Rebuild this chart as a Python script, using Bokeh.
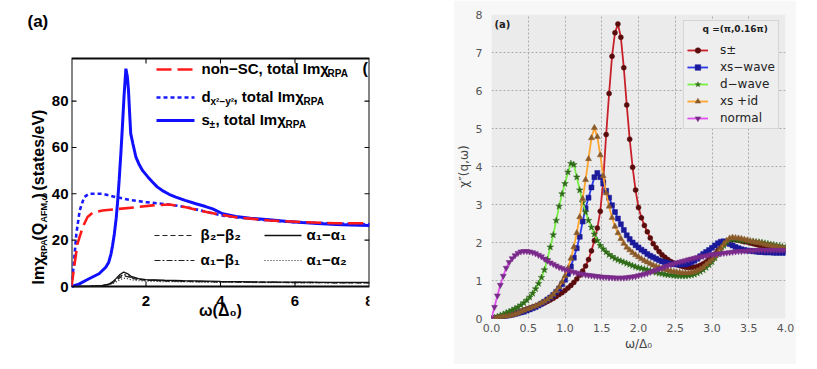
import numpy as np
from bokeh.plotting import figure
from bokeh.models import (Range1d, FixedTicker, Label, Arrow, Legend, LegendItem,
                          PrintfTickFormatter)
from bokeh.layouts import row
from bokeh.embed import file_html
from bokeh.resources import INLINE

# ---------------- left panel data (omega in units of Delta0) ----------------
spm_x = [0.0, 0.2, 0.38, 0.55, 0.74, 0.92, 1.0, 1.06, 1.10, 1.15, 1.20, 1.24, 1.28, 1.33,
         1.37, 1.41, 1.46, 1.50, 1.53, 1.56, 1.59, 1.65, 1.73, 1.82, 1.91, 2.05, 2.18, 2.30,
         2.44, 2.62, 2.8, 3.05, 3.34, 3.6, 3.79, 4.06, 4.41, 4.8, 5.31, 5.8, 6.2, 6.6, 7.1,
         7.5, 8.0]
spm_y = [0.0, 1.0, 2.6, 4.0, 5.5, 8.3, 10.5, 14.0, 17.5, 22.7, 29.5, 37.0, 46.0, 58.7,
         70.0, 82.0, 94.0, 90.5, 84.6, 75.0, 66.0, 61.5, 55.8, 52.5, 50.0, 47.3, 45.0, 43.0,
         41.4, 39.8, 38.6, 37.2, 35.7, 34.5, 33.5, 31.4, 30.2, 29.5, 28.8, 28.1, 27.6, 27.2,
         26.8, 26.5, 26.3]
nonsc_x = [0.0, 0.07, 0.16, 0.30, 0.43, 0.56, 0.83, 1.28, 1.73, 2.18, 2.62, 3.07, 3.52,
           3.97, 4.41, 5.31, 6.2, 7.1, 8.0]
nonsc_y = [0.0, 8.3, 18.4, 25.6, 30.0, 31.7, 32.8, 33.5, 34.2, 35.0, 35.4, 34.2, 32.5,
           31.1, 29.9, 28.5, 27.8, 27.3, 27.3]
dwave_x = [0.0, 0.07, 0.13, 0.22, 0.34, 0.47, 0.83, 1.19, 1.55, 2.0, 2.62, 3.16, 3.7,
           4.06, 4.41, 5.31, 6.2, 7.1, 8.0]
dwave_y = [0.0, 11.2, 22.7, 32.8, 38.6, 40.0, 40.0, 38.6, 37.4, 36.4, 35.4, 34.0, 31.9,
           30.6, 29.9, 28.5, 27.6, 27.2, 26.8]
band_x = [0.0, 0.5, 0.8, 1.0, 1.1, 1.2, 1.3, 1.4, 1.5, 1.6, 1.8, 2.0, 2.5, 3.0, 4.0, 5.0,
          6.0, 7.0, 8.0]
a1a1_y = [0.0, 0.1, 0.4, 1.0, 2.0, 3.5, 5.2, 6.2, 5.6, 4.4, 3.4, 3.0, 2.7, 2.5, 2.2, 2.0,
          1.9, 1.8, 1.8]
b2b2_y = [0.0, 0.1, 0.3, 0.8, 1.5, 2.6, 3.8, 4.6, 4.3, 3.6, 3.0, 2.7, 2.4, 2.2, 2.0, 1.8,
          1.7, 1.6, 1.6]
a1b1_y = [0.0, 0.1, 0.3, 0.9, 1.7, 3.0, 4.4, 5.2, 4.8, 3.9, 3.1, 2.8, 2.5, 2.3, 2.0, 1.9,
          1.8, 1.7, 1.7]
a1a2_y = [0.0, 0.1, 0.2, 0.6, 1.2, 2.0, 2.9, 3.6, 3.4, 2.9, 2.5, 2.3, 2.1, 2.0, 1.8, 1.7,
          1.6, 1.6, 1.5]
left_xticks = [2, 4, 6, 8]
left_yticks = [0, 20, 40, 60, 80]
left_box = (0, 8, 0, 98.4)          # axis limits of panel (a): x0, x1, y0, y1

# ---------------- right panel data ----------------
omega = [round(0.04 * i, 2) for i in range(101)]
chi_spm = [0.00, 0.01, 0.02, 0.04, 0.05, 0.07, 0.09, 0.11, 0.14, 0.17,
           0.19, 0.22, 0.25, 0.27, 0.30, 0.32, 0.35, 0.38, 0.41, 0.45,
           0.49, 0.53, 0.58, 0.63, 0.68, 0.74, 0.80, 0.87, 0.95, 1.04,
           1.14, 1.25, 1.38, 1.55, 1.78, 2.05, 2.38, 2.82, 3.62, 4.84,
           5.92, 6.90, 7.52, 7.75, 7.40, 6.60, 5.62, 4.72, 3.98, 3.38,
           2.92, 2.65, 2.45, 2.28, 2.12, 1.97, 1.86, 1.76, 1.68, 1.61,
           1.55, 1.50, 1.46, 1.42, 1.39, 1.37, 1.35, 1.34, 1.34, 1.35,
           1.37, 1.40, 1.44, 1.49, 1.55, 1.62, 1.70, 1.79, 1.87, 1.95,
           2.02, 2.06, 2.08, 2.07, 2.06, 2.04, 2.02, 2.01, 1.99, 1.97,
           1.95, 1.93, 1.92, 1.91, 1.89, 1.88, 1.87, 1.86, 1.85, 1.84,
           1.83]
chi_xs = [0.00, 0.01, 0.02, 0.03, 0.05, 0.06, 0.08, 0.10, 0.12, 0.14,
          0.16, 0.18, 0.21, 0.24, 0.27, 0.30, 0.34, 0.39, 0.44, 0.50,
          0.55, 0.62, 0.70, 0.79, 0.90, 1.02, 1.17, 1.37, 1.60, 1.85,
          2.15, 2.55, 2.90, 3.18, 3.45, 3.72, 3.83, 3.72, 3.55, 3.36,
          3.18, 2.98, 2.80, 2.63, 2.48, 2.33, 2.19, 2.09, 2.00, 1.93,
          1.87, 1.81, 1.76, 1.70, 1.65, 1.61, 1.57, 1.53, 1.50, 1.48,
          1.46, 1.44, 1.43, 1.42, 1.42, 1.42, 1.43, 1.45, 1.48, 1.52,
          1.57, 1.64, 1.70, 1.75, 1.80, 1.86, 1.92, 1.98, 2.02, 2.03,
          2.00, 1.96, 1.92, 1.88, 1.85, 1.82, 1.80, 1.79, 1.78, 1.77,
          1.76, 1.75, 1.75, 1.74, 1.74, 1.74, 1.73, 1.73, 1.73, 1.73,
          1.73]
chi_d = [0.00, 0.02, 0.05, 0.08, 0.11, 0.15, 0.18, 0.22, 0.26, 0.30,
         0.35, 0.41, 0.48, 0.56, 0.66, 0.78, 0.92, 1.08, 1.28, 1.55,
         1.88, 2.20, 2.58, 2.95, 3.28, 3.55, 3.85, 4.08, 4.05, 3.72,
         3.38, 3.05, 2.80, 2.58, 2.40, 2.22, 2.05, 1.92, 1.83, 1.75,
         1.68, 1.63, 1.58, 1.54, 1.51, 1.48, 1.45, 1.42, 1.39, 1.36,
         1.34, 1.32, 1.30, 1.28, 1.26, 1.24, 1.21, 1.19, 1.18, 1.16,
         1.15, 1.14, 1.13, 1.12, 1.12, 1.12, 1.12, 1.13, 1.14, 1.16,
         1.19, 1.23, 1.28, 1.34, 1.41, 1.49, 1.59, 1.70, 1.81, 1.92,
         2.01, 2.07, 2.09, 2.08, 2.07, 2.06, 2.05, 2.04, 2.03, 2.03,
         2.02, 2.01, 2.00, 1.98, 1.97, 1.95, 1.94, 1.92, 1.91, 1.89,
         1.88]
chi_xsid = [0.00, 0.01, 0.02, 0.03, 0.04, 0.06, 0.07, 0.09, 0.11, 0.14,
            0.18, 0.21, 0.24, 0.27, 0.30, 0.33, 0.37, 0.41, 0.45, 0.50,
            0.56, 0.63, 0.72, 0.83, 0.96, 1.12, 1.32, 1.58, 1.88, 2.25,
            2.67, 3.15, 3.65, 4.20, 4.75, 5.02, 4.78, 4.30, 3.75, 3.30,
            2.95, 2.65, 2.42, 2.25, 2.10, 1.97, 1.87, 1.80, 1.73, 1.67,
            1.62, 1.57, 1.52, 1.48, 1.44, 1.40, 1.37, 1.34, 1.31, 1.29,
            1.27, 1.25, 1.23, 1.22, 1.21, 1.20, 1.20, 1.20, 1.21, 1.23,
            1.26, 1.30, 1.35, 1.42, 1.49, 1.56, 1.64, 1.74, 1.85, 1.96,
            2.05, 2.11, 2.13, 2.12, 2.11, 2.10, 2.08, 2.06, 2.04, 2.02,
            2.00, 1.99, 1.97, 1.95, 1.93, 1.92, 1.90, 1.89, 1.87, 1.86,
            1.84]
chi_normal = [0.00, 0.30, 0.60, 0.88, 1.12, 1.33, 1.48, 1.58, 1.66, 1.72,
              1.76, 1.77, 1.77, 1.76, 1.74, 1.71, 1.67, 1.63, 1.57, 1.52,
              1.47, 1.43, 1.39, 1.35, 1.32, 1.29, 1.27, 1.24, 1.22, 1.20,
              1.18, 1.17, 1.15, 1.14, 1.13, 1.12, 1.11, 1.10, 1.09, 1.09,
              1.08, 1.08, 1.07, 1.07, 1.07, 1.07, 1.08, 1.09, 1.10, 1.11,
              1.13, 1.15, 1.17, 1.19, 1.22, 1.25, 1.27, 1.30, 1.33, 1.36,
              1.39, 1.42, 1.44, 1.47, 1.49, 1.51, 1.53, 1.55, 1.57, 1.59,
              1.61, 1.62, 1.64, 1.65, 1.67, 1.68, 1.69, 1.70, 1.71, 1.72,
              1.73, 1.74, 1.75, 1.76, 1.77, 1.77, 1.78, 1.78, 1.79, 1.79,
              1.80, 1.80, 1.80, 1.80, 1.80, 1.80, 1.80, 1.80, 1.80, 1.80,
              1.80]
right_xticks = [0.0, 0.5, 1.0, 1.5, 2.0, 2.5, 3.0, 3.5, 4.0]
right_yticks = [0, 1, 2, 3, 4, 5, 6, 7, 8]
right_names = ["s\u00b1", "xs\u2212wave", "d\u2212wave", "xs +id", "normal"]

# shared frame band (all three canvases in the row get the same top/bottom borders)
TOP, FH, BOT = 14, 304, 46
FB = TOP + FH                       # frame bottom in picture pixels (318)
L_FL, R_FL = 70, 487
L_FW, R_FW = 298, 294
BOX_T, BOX_B = 58, 286              # pixel rows of panel (a)'s axes box
pix_per_unit = (BOX_B - BOX_T) / (left_box[3] - left_box[2])
ly0 = left_box[2] - (FB - BOX_B) / pix_per_unit
ly1 = left_box[3] + (BOX_T - TOP) / pix_per_unit
INK = "#0a0a0a"


def put(p, fl, X, Y, text, size, bold=False, font="Liberation Sans", color="black",
        angle=0.0, align="left", baseline="middle"):
    p.add_layout(Label(x=X - fl, y=FB - Y, x_units="screen", y_units="screen", text=text,
                       text_font=font, text_font_size=f"{size}px",
                       text_font_style="bold" if bold else "normal", text_color=color,
                       angle=angle, text_align=align, text_baseline=baseline))


def put_data(p, xr, yr, fl, fw, X, Y, text, size, bold=False, font="DejaVu Sans",
             color="#222222"):
    dx = xr[0] + (X - fl) / fw * (xr[1] - xr[0])
    dy = yr[0] + (FB - Y) / FH * (yr[1] - yr[0])
    p.add_layout(Label(x=dx, y=dy, text=text, text_font=font, text_font_size=f"{size}px",
                       text_font_style="bold" if bold else "normal", text_color=color,
                       text_baseline="middle"))


def seg(p, fl, X0, X1, Y0, Y1, color, width, dash="solid"):
    p.add_layout(Arrow(end=None, x_start=X0 - fl, y_start=FB - Y0, x_end=X1 - fl,
                       y_end=FB - Y1, start_units="screen", end_units="screen",
                       line_color=color, line_width=width, line_dash=dash))


# ================= text strip left of panel (a) =================
t = figure(frame_width=48, frame_height=FH, x_range=Range1d(0, 1), y_range=Range1d(0, 1),
           output_backend="svg", toolbar_location=None, title=None,
           x_axis_location=None, y_axis_location=None, min_border_left=0,
           min_border_right=0, min_border_top=TOP, min_border_bottom=BOT,
           outline_line_color=None)
t.xgrid.visible = False
t.ygrid.visible = False
A = np.pi / 2
put(t, 0, 27, 21, "(a)", 17, True)
put(t, 0, 38, 284, "Im\u03c7", 16, True, angle=A)
put(t, 0, 43, 257, "RPA", 9, True, angle=A)
put(t, 0, 38, 240, "(Q", 16, True, angle=A)
put(t, 0, 43, 222, "AFM,\u03c9", 9, True, angle=A)
put(t, 0, 38, 198, ")", 16, True, angle=A)
put(t, 0, 38, 190, "(states/eV)", 16, True, angle=A)

# ================= left figure =================
p1 = figure(frame_width=L_FW, frame_height=FH, x_range=Range1d(left_box[0], left_box[1]),
            y_range=Range1d(ly0, ly1), output_backend="svg", toolbar_location=None,
            title=None, x_axis_location=None, min_border_left=22, min_border_right=84,
            min_border_top=TOP, min_border_bottom=BOT, outline_line_color=None)
p1.xgrid.visible = False
p1.ygrid.visible = False

p1.yaxis.ticker = FixedTicker(ticks=left_yticks)
ay = p1.yaxis[0]
ay.major_tick_in = 0
ay.major_tick_out = 0
ay.minor_tick_line_color = None
ay.axis_line_color = None
ay.major_tick_line_color = None
ay.major_label_text_font = "Liberation Sans"
ay.major_label_text_font_style = "bold"
ay.major_label_text_font_size = "15px"
ay.major_label_text_color = "black"
ay.major_label_standoff = 3

# x tick labels of panel (a), placed through the panel's own x scale
for v in left_xticks:
    p1.add_layout(Label(x=v, y=left_box[2], y_offset=-9, text=str(v),
                        text_font="Liberation Sans", text_font_style="bold",
                        text_font_size="15px", text_color="black",
                        text_align="center", text_baseline="top"))

# axes box of panel (a), drawn through the panel's own scales
bx0, bx1, by0, by1 = left_box
p1.line([bx0, bx1, bx1, bx0, bx0], [by0, by0, by1, by1, by0], line_color=INK,
        line_width=2)

p1.line(spm_x, spm_y, line_color="#1010ff", line_width=3)
p1.line(dwave_x, dwave_y, line_color="#1a1aff", line_width=2.6, line_dash="4 3")
p1.line(nonsc_x, nonsc_y, line_color="#ff1a1a", line_width=2.6, line_dash="15 6")
p1.line(band_x, b2b2_y, line_color="#222222", line_width=1.2, line_dash="5 3")
p1.line(band_x, a1b1_y, line_color="#222222", line_width=1.2, line_dash="6 2 2 2")
p1.line(band_x, a1a2_y, line_color="#222222", line_width=1.2, line_dash="1 2")
p1.line(band_x, a1a1_y, line_color="#111111", line_width=1.3)

# inward ticks on all four sides of the box
L_FR = L_FL + L_FW
for v in left_xticks[:-1]:
    X = L_FL + (v - left_box[0]) / (left_box[1] - left_box[0]) * L_FW
    seg(p1, L_FL, X, X, BOX_B, BOX_B - 5, INK, 1.1)
    seg(p1, L_FL, X, X, BOX_T, BOX_T + 5, INK, 1.1)
for v in left_yticks[1:]:
    Y = BOX_B - (v - left_box[2]) * pix_per_unit
    seg(p1, L_FL, L_FL, L_FL + 5, Y, Y, INK, 1.1)
    seg(p1, L_FL, L_FR, L_FR - 5, Y, Y, INK, 1.1)

# x-axis title of panel (a)
put(p1, L_FL, 219, 310, "\u03c9(\u0394\u2080)", 16, True, align="center")

# upper legend (manual, with subscripts)
seg(p1, L_FL, 155, 193, 69, 69, "#ff1a1a", 2.6, "15 6")
seg(p1, L_FL, 155, 193, 97, 97, "#1a1aff", 2.6, "4 3")
seg(p1, L_FL, 155, 193, 120, 120, "#1010ff", 3)
put(p1, L_FL, 200, 68, "non\u2212SC, total Im\u03c7", 15, True)
put(p1, L_FL, 326, 73, "RPA", 10, True)
put(p1, L_FL, 200, 96, "d", 15, True)
put(p1, L_FL, 209, 101, "x\u00b2\u2212y\u00b2", 10, True)
put(p1, L_FL, 232, 96, ", total Im\u03c7", 15, True)
put(p1, L_FL, 302, 101, "RPA", 10, True)
put(p1, L_FL, 200, 119, "s", 15, True)
put(p1, L_FL, 208, 124, "\u00b1", 10, True)
put(p1, L_FL, 214, 119, ", total Im\u03c7", 15, True)
put(p1, L_FL, 284, 124, "RPA", 10, True)

# lower legend
seg(p1, L_FL, 153, 193, 235, 235, "#222222", 1.2, "5 3")
seg(p1, L_FL, 263, 300, 235, 235, "#111111", 1.3)
seg(p1, L_FL, 153, 193, 260, 260, "#222222", 1.2, "6 2 2 2")
seg(p1, L_FL, 263, 300, 260, 260, "#222222", 1.2, "1 2")
put(p1, L_FL, 199, 234, "\u03b2\u2082\u2212\u03b2\u2082", 15, True)
put(p1, L_FL, 305, 234, "\u03b1\u2081\u2212\u03b1\u2081", 15, True)
put(p1, L_FL, 199, 259, "\u03b1\u2081\u2212\u03b2\u2081", 15, True)
put(p1, L_FL, 305, 259, "\u03b1\u2081\u2212\u03b1\u2082", 15, True)
put(p1, L_FL, 361, 68, "(", 16, True)

# ================= right figure =================
R_XR, R_YR = (0, 4), (0, 8)
p2 = figure(frame_width=R_FW, frame_height=FH, x_range=Range1d(*R_XR),
            y_range=Range1d(*R_YR), output_backend="svg", toolbar_location=None,
            title=None, min_border_left=35, min_border_right=11, min_border_top=TOP,
            min_border_bottom=BOT, background_fill_color="#ebebeb",
            border_fill_color="#f7f7f7", outline_line_color=None)
p2.xaxis.ticker = FixedTicker(ticks=right_xticks)
p2.yaxis.ticker = FixedTicker(ticks=right_yticks)
p2.xaxis.formatter = PrintfTickFormatter(format="%.1f")
for ax in (p2.xaxis[0], p2.yaxis[0]):
    ax.axis_line_color = None
    ax.major_tick_line_color = None
    ax.minor_tick_line_color = None
    ax.major_tick_out = 0
    ax.major_tick_in = 0
    ax.minor_tick_out = 0
    ax.major_label_text_font = "DejaVu Sans"
    ax.major_label_text_font_size = "11px"
    ax.major_label_text_color = "#555555"
    ax.axis_label_text_font = "DejaVu Sans"
    ax.axis_label_text_font_size = "12px"
    ax.axis_label_text_font_style = "normal"
    ax.axis_label_text_color = "#444444"
p2.xaxis.major_label_standoff = 5
p2.yaxis.major_label_standoff = 9
p2.xaxis.axis_label = "\u03c9/\u0394\u2080"
p2.yaxis.axis_label = "\u03c7\u2033(q,\u03c9)"
p2.xaxis.axis_label_standoff = 2
p2.yaxis.axis_label_standoff = 2
for g in (p2.xgrid[0], p2.ygrid[0]):
    g.grid_line_color = "#aaaaaa"
    g.grid_line_dash = "2 2"
    g.grid_line_width = 1

series = [
    (chi_spm, "#c8202a", "circle", "#5a0c0c", 5),
    (chi_xs, "#2a3ae8", "square", "#1a1a9a", 5),
    (chi_d, "#77ee44", "star", "#2f6a18", 7),
    (chi_xsid, "#ffa530", "triangle", "#8a5a2a", 6),
    (chi_normal, "#e050ee", "inverted_triangle", "#7a2a8a", 6),
]
items = []
for name, (ys, lc, mk, mc, ms) in zip(right_names, series):
    rl = p2.line(omega, ys, line_color=lc, line_width=1.8)
    rs = p2.scatter(omega, ys, marker=mk, size=ms, fill_color=mc, line_color=mc,
                    line_width=0.5)
    items.append(LegendItem(label=name, renderers=[rl, rs]))

leg = Legend(items=items, location="top_right", margin=6, padding=3, spacing=3,
             glyph_width=21, glyph_height=14, label_height=14, label_standoff=12,
             label_text_font="DejaVu Sans", label_text_font_size="12px",
             label_text_color="#222222", border_line_color="#bbbbbb",
             background_fill_color="#eeeeee", background_fill_alpha=1.0,
             title="\u00a0" * 5 + "q =(\u03c0,0.16\u03c0)", title_text_font="DejaVu Sans",
             title_text_font_size="9px", title_text_font_style="bold",
             title_text_color="#222222", title_standoff=9)
p2.add_layout(leg)
put_data(p2, R_XR, R_YR, R_FL, R_FW, 490, 24, "(a)", 10, True)

layout = row(t, p1, p2)
open("out.html", "w").write(file_html(layout, INLINE))
